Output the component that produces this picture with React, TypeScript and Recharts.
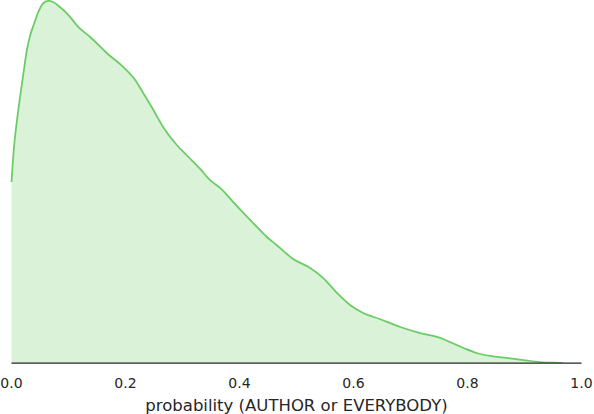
import React from "react";
import { AreaChart, Area, XAxis, YAxis } from "recharts";

const xValues = [
  0.0, 0.0044, 0.009, 0.015, 0.021, 0.027, 0.032, 0.04, 0.047, 0.056, 0.065, 0.073,
  0.085, 0.1, 0.117, 0.138, 0.167, 0.196, 0.217, 0.231, 0.249, 0.266, 0.29, 0.307,
  0.331, 0.348, 0.366, 0.389, 0.424, 0.448, 0.465, 0.494, 0.524, 0.547, 0.571, 0.594,
  0.617, 0.646, 0.682, 0.717, 0.752, 0.769, 0.793, 0.816, 0.84, 0.869, 0.898, 0.927,
  0.951, 0.968,
];

const density = [
  1.336, 1.594, 1.771, 1.963, 2.14, 2.31, 2.406, 2.509, 2.59, 2.657, 2.672, 2.664,
  2.627, 2.568, 2.48, 2.406, 2.288, 2.185, 2.089, 1.993, 1.867, 1.742, 1.609, 1.535,
  1.432, 1.351, 1.292, 1.188, 1.033, 0.93, 0.871, 0.768, 0.701, 0.627, 0.517, 0.428,
  0.369, 0.325, 0.266, 0.221, 0.185, 0.155, 0.111, 0.074, 0.052, 0.037, 0.022, 0.007,
  0.002, 0.0,
];

const xTicks = [0, 0.2, 0.4, 0.6, 0.8, 1.0];
const xLabel = "probability (AUTHOR or EVERYBODY)";

const data = xValues.map((x, i) => ({ x, y: density[i] }));

const font = "'DejaVu Sans', sans-serif";

export default function App() {
  return (
    <div style={{ position: "absolute", left: 0, top: 0, width: 594, height: 414, background: "#fff" }}>
      <AreaChart
        width={594}
        height={414}
        data={data}
        margin={{ top: 0, right: 12.5, bottom: 0, left: 11.5 }}
      >
        <XAxis
          dataKey="x"
          type="number"
          domain={[0, 1]}
          ticks={xTicks}
          tickFormatter={(v: number) => v.toFixed(1)}
          tickLine={false}
          tickSize={6}
          tickMargin={9}
          height={51}
          axisLine={{ stroke: "#262626", strokeWidth: 1.25 }}
          tick={{ fill: "#262626", fontSize: 14, fontFamily: font }}
          interval={0}
          label={{
            value: xLabel,
            position: "insideBottom",
            offset: 3,
            fill: "#262626",
            fontSize: 16.5,
            fontFamily: font,
          }}
        />
        <YAxis hide domain={[0, 2.679]} allowDataOverflow />
        <Area
          dataKey="y"
          type="monotone"
          stroke="#6acc64"
          strokeWidth={1.75}
          fill="#6acc64"
          fillOpacity={0.25}
          baseValue={0}
          isAnimationActive={false}
          dot={false}
          activeDot={false}
        />
      </AreaChart>
    </div>
  );
}
